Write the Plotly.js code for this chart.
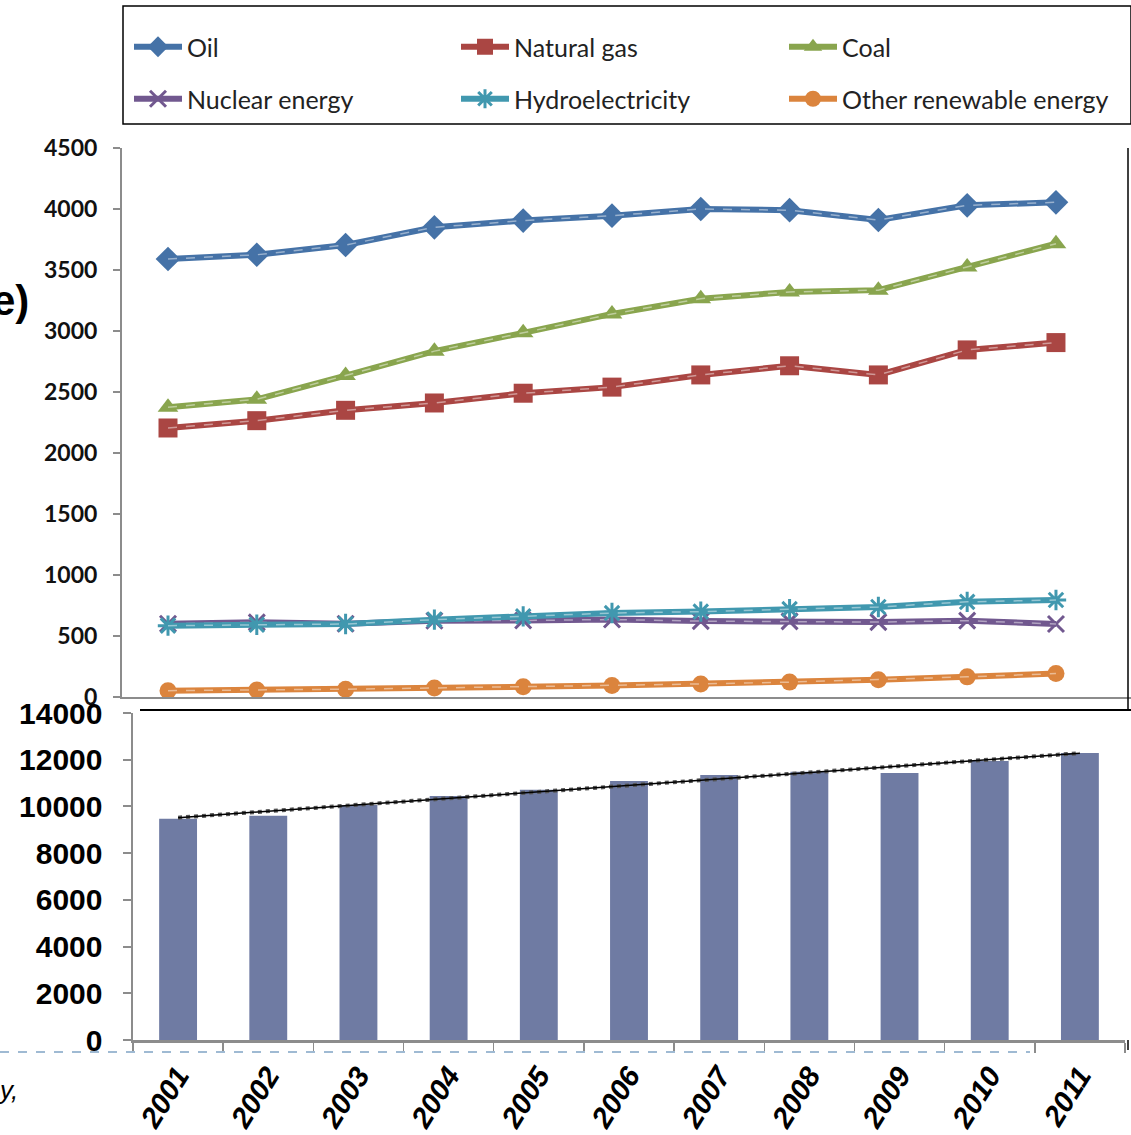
<!DOCTYPE html>
<html>
<head>
<meta charset="utf-8">
<script src="https://cdn.plot.ly/plotly-3.0.1.min.js"></script>
<style>
  html, body { margin: 0; padding: 0; background: #fff; }
  #chart { width: 1131px; height: 1135px; }
</style>
</head>
<body>
<div id="chart"></div>
<script>
// Primary energy consumption by source (top) and total (bottom), 2001–2011
const years = ['2001', '2002', '2003', '2004', '2005', '2006', '2007', '2008', '2009', '2010', '2011'];

const oil            = [3590, 3625, 3705, 3850, 3905, 3945, 4000, 3990, 3910, 4030, 4055];
const naturalGas     = [2205, 2265, 2350, 2410, 2490, 2540, 2640, 2715, 2640, 2845, 2905];
const coal           = [2375, 2440, 2635, 2835, 2985, 3140, 3265, 3320, 3335, 3525, 3715];
const nuclearEnergy  = [600, 612, 600, 625, 627, 635, 622, 620, 614, 626, 598];
const hydroelectric  = [585, 592, 598, 634, 661, 688, 700, 720, 738, 780, 795];
const otherRenewable = [52, 57, 64, 74, 84, 95, 107, 122, 142, 165, 192];

const totalEnergy = [9470, 9600, 10060, 10450, 10710, 11090, 11350, 11480, 11430, 11950, 12290];
const trendYears  = ['2001', '2011'];
const trendValues = [9520, 12280];

const topTicks    = [0, 500, 1000, 1500, 2000, 2500, 3000, 3500, 4000, 4500];
const bottomTicks = [0, 2000, 4000, 6000, 8000, 10000, 12000, 14000];

// page geometry helpers (pixels -> paper fractions)
const W = 1131, H = 1135;
const px = x => x / W;
const py = y => 1 - y / H;

// one legend per entry, laid out in a 3 x 2 grid
const seriesDefs = [
  { name: 'Oil', y: oil, color: '#4572A7', symbol: 'diamond', size: 19, legend: 'legend', lx: 129, ly: 47 },
  { name: 'Natural gas', y: naturalGas, color: '#AA4643', symbol: 'square', size: 19, legend: 'legend2', lx: 456, ly: 47 },
  { name: 'Coal', y: coal, color: '#89A54E', symbol: 'triangle-up', size: 18, legend: 'legend3', lx: 784, ly: 47 },
  { name: 'Nuclear energy', y: nuclearEnergy, color: '#71588F', symbol: 'x-thin-open', size: 16, legend: 'legend4', lx: 129, ly: 99 },
  { name: 'Hydroelectricity', y: hydroelectric, color: '#4198AF', symbol: 'asterisk-open', size: 17, legend: 'legend5', lx: 456, ly: 99 },
  { name: 'Other renewable energy', y: otherRenewable, color: '#DB843D', symbol: 'circle', size: 17, legend: 'legend6', lx: 784, ly: 99 }
];

const traces = [];
seriesDefs.forEach(s => {
  const open = s.symbol.endsWith('-open');
  traces.push({
    type: 'scatter', mode: 'lines+markers', name: s.name,
    x: years, y: s.y, xaxis: 'x', yaxis: 'y', legend: s.legend,
    line: { color: s.color, width: 6 },
    marker: { symbol: s.symbol, size: s.size, color: s.color,
              line: { color: s.color, width: open ? 3 : 0 } },
    hoverinfo: 'x+y+name'
  });
  // lighter dashed highlight running along each line
  traces.push({
    type: 'scatter', mode: 'lines', showlegend: false, hoverinfo: 'skip',
    x: years, y: s.y, xaxis: 'x', yaxis: 'y',
    line: { color: 'rgba(255,255,255,0.45)', width: 1.5, dash: 'dash' }
  });
});

traces.push({
  type: 'bar', x: years, y: totalEnergy, xaxis: 'x2', yaxis: 'y2',
  width: 0.42, marker: { color: '#6F7BA3' }, showlegend: false
});
traces.push({
  type: 'scatter', mode: 'lines', x: trendYears, y: trendValues, xaxis: 'x2', yaxis: 'y2',
  line: { color: '#555', width: 4, dash: 'dot' }, showlegend: false, hoverinfo: 'skip'
});
traces.push({
  type: 'scatter', mode: 'lines', x: trendYears, y: trendValues, xaxis: 'x2', yaxis: 'y2',
  line: { color: '#000', width: 1.5 }, showlegend: false, hoverinfo: 'skip'
});

const axisGray = '#8c8c8c';

const layout = {
  width: W, height: H, autosize: false,
  margin: { l: 0, r: 0, t: 0, b: 0, pad: 0, autoexpand: false },
  paper_bgcolor: '#fff', plot_bgcolor: 'rgba(0,0,0,0)',
  showlegend: true,
  xaxis: {
    domain: [px(122), px(1131)], anchor: 'y', type: 'category',
    range: [-0.518, 10.845], showticklabels: false, ticks: '',
    showline: true, linecolor: axisGray, linewidth: 2,
    showgrid: false, zeroline: false, fixedrange: true
  },
  yaxis: {
    domain: [py(697), py(148)], anchor: 'x', range: [0, 4500],
    tickmode: 'array', tickvals: topTicks, ticktext: topTicks.map(String),
    ticks: 'outside', ticklen: 7, tickwidth: 2, tickcolor: axisGray, ticklabelstandoff: 11,
    showline: true, linecolor: axisGray, linewidth: 2,
    showgrid: false, zeroline: false, fixedrange: true,
    tickfont: { family: 'Lato', size: 23, color: '#111', weight: 'bold' }
  },
  xaxis2: {
    domain: [px(133), px(1125)], anchor: 'y2', type: 'category',
    range: [-0.5, 10.5], tickson: 'boundaries',
    ticks: 'outside', ticklen: 10, tickwidth: 1.5, tickcolor: axisGray,
    showline: true, linecolor: axisGray, linewidth: 3,
    showgrid: false, zeroline: false, fixedrange: true, tickangle: -58,
    ticklabelstandoff: 4,
    tickfont: { family: 'Liberation Sans', size: 29, color: '#000', weight: 'bold', style: 'italic' }
  },
  yaxis2: {
    domain: [py(1040), py(713)], anchor: 'x2', range: [0, 14000],
    tickmode: 'array', tickvals: bottomTicks, ticktext: bottomTicks.map(String),
    ticks: 'outside', ticklen: 8, tickwidth: 2, tickcolor: axisGray, ticklabelstandoff: 14,
    showline: true, linecolor: axisGray, linewidth: 2.5,
    showgrid: false, zeroline: false, fixedrange: true,
    tickfont: { family: 'Liberation Sans', size: 30, color: '#000', weight: 'bold' }
  },
  shapes: [
    { type: 'rect', xref: 'paper', yref: 'paper', x0: px(123), x1: px(1131), y0: py(124), y1: py(6),
      line: { color: '#000', width: 1.5 }, fillcolor: 'rgba(0,0,0,0)' },
    { type: 'line', xref: 'paper', yref: 'paper', x0: px(1128), x1: px(1128), y0: py(148), y1: py(710),
      line: { color: '#000', width: 1.5 } },
    { type: 'line', xref: 'paper', yref: 'paper', x0: px(140), x1: px(1131), y0: py(710), y1: py(710),
      line: { color: '#000', width: 2 } },
    { type: 'line', xref: 'paper', yref: 'paper', x0: px(1128), x1: px(1128), y0: py(1040), y1: py(1050),
      line: { color: '#000', width: 1.5 } },
    { type: 'line', xref: 'paper', yref: 'paper', x0: 0, x1: px(1030), y0: py(1052), y1: py(1052),
      line: { color: '#9FBAD3', width: 2, dash: 'dash' } }
  ],
  annotations: [
    { text: 'e)', xref: 'paper', yref: 'paper', x: px(31), y: py(300), xanchor: 'right', yanchor: 'middle',
      showarrow: false, font: { family: 'Liberation Sans', size: 42, color: '#000', weight: 'bold' } },
    { text: 'y,', xref: 'paper', yref: 'paper', x: px(20), y: py(1090), xanchor: 'right', yanchor: 'middle',
      showarrow: false, font: { family: 'Liberation Sans', size: 26, color: '#000', style: 'italic' } }
  ]
};

seriesDefs.forEach(s => {
  layout[s.legend] = {
    x: px(s.lx), y: py(s.ly), xanchor: 'left', yanchor: 'middle',
    orientation: 'h', itemwidth: 48,
    font: { family: 'Lato', size: 25, color: '#222' },
    bgcolor: 'rgba(0,0,0,0)', borderwidth: 0, itemclick: false
  };
});

Plotly.newPlot('chart', traces, layout, { displayModeBar: false, staticPlot: true });
</script>
</body>
</html>
